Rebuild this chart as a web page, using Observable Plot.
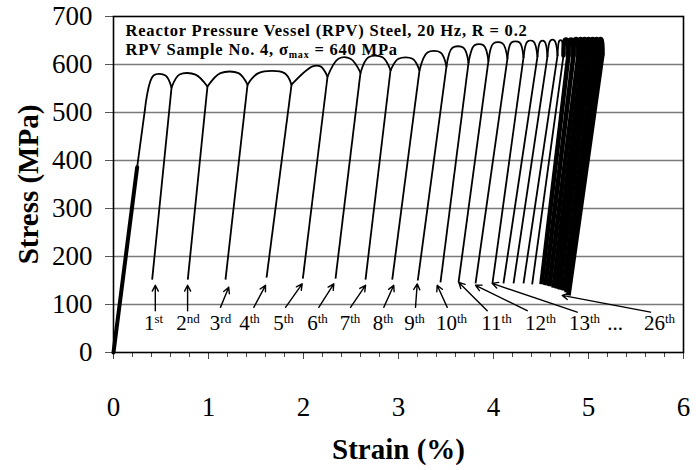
<!DOCTYPE html>
<html><head><meta charset="utf-8">
<script src="https://cdn.jsdelivr.net/npm/d3@7"></script>
<script src="https://cdn.jsdelivr.net/npm/@observablehq/plot@0.6"></script>
<style>body{margin:0;background:#fff}#chart svg{display:block}.titleline text{letter-spacing:0.8px}</style>
</head><body><div id="chart"></div>
<script>
// ---- axis ticks ----
const xTicks = [0, 1, 2, 3, 4, 5, 6];
const xMinorTicks = [0, 0.2, 0.4, 0.6, 0.8, 1, 1.2, 1.4, 1.6, 1.8, 2, 2.2, 2.4, 2.6, 2.8, 3, 3.2, 3.4, 3.6, 3.8, 4, 4.2, 4.4, 4.6, 4.8, 5, 5.2, 5.4, 5.6, 5.8, 6];
const yTicks = [0, 100, 200, 300, 400, 500, 600, 700];
const gridStress = [100, 200, 300, 400, 500, 600];

// ---- texts ----
const titleLine1 = "Reactor Pressure Vessel (RPV) Steel, 20 Hz, R = 0.2";
const titleLine2 = "RPV Sample No. 4, σmax = 640 MPa";
const xLabel = "Strain (%)";
const yLabel = "Stress (MPa)";

// ---- initial monotonic loading ----
const loadStrain = [0, 0.249, 0.33];
const loadStress = [0, 386, 505];

// ---- cycles ----
const cycles = [1,2,3,4,5,6,7,8,9,10,11,12,13,14,15,16,17,18,19,20,21,22,23,24,25,26];
const peakStrainStart = [0.421, 0.695, 1.126, 1.526, 2.095, 2.368, 2.684, 3.0, 3.305, 3.568, 3.8, 4.0, 4.189, 4.358, 4.495, 4.6, 4.695, 4.752, 4.805, 4.858, 4.907, 4.949, 4.991, 5.033, 5.075, 5.117];
const peakStrainEnd   = [0.547, 0.863, 1.316, 1.8, 2.179, 2.495, 2.832, 3.147, 3.442, 3.684, 3.895, 4.095, 4.274, 4.421, 4.537, 4.642, 4.716, 4.774, 4.826, 4.879, 4.925, 4.967, 5.009, 5.051, 5.093, 5.135];
const peakStress      = [577, 579, 582, 582, 596, 612, 615, 612, 625, 635, 640, 644, 646, 648, 648, 650, 650, 651, 651, 652, 652, 652, 652, 652, 652, 652];
const kneeStrain      = [0.611, 0.989, 1.411, 1.874, 2.253, 2.6, 2.916, 3.221, 3.505, 3.737, 3.947, 4.147, 4.316, 4.463, 4.568, 4.674, 4.737, 4.789, 4.842, 4.895, 4.937, 4.979, 5.021, 5.063, 5.105, 5.147];
const kneeStress      = [552, 554, 558, 558, 575, 583, 588, 588, 596, 604, 608, 613, 615, 617, 617, 619, 619, 620, 620, 621, 621, 621, 622, 622, 622, 622];
const minStrain       = [0.407, 0.782, 1.179, 1.611, 1.993, 2.337, 2.653, 2.934, 3.203, 3.442, 3.632, 3.811, 3.989, 4.105, 4.211, 4.316, 4.407, 4.505, 4.547, 4.589, 4.632, 4.663, 4.695, 4.737, 4.768, 4.789];
const minStress       = [152, 152, 152, 156, 154, 154, 152, 152, 150, 146, 146, 144, 144, 144, 144, 144, 142, 142, 140, 138, 135, 133, 131, 129, 125, 119];

// ---- cycle labels and arrows ----
const labelText   = ["1st","2nd","3rd","4th","5th","6th","7th","8th","9th","10th","11th","12th","13th","...","26th"];
const labelStrain = [0.421, 0.784, 1.126, 1.432, 1.789, 2.147, 2.489, 2.837, 3.168, 3.558, 4.032, 4.495, 4.958, 5.279, 5.747];
const labelStress = [60, 60, 60, 60, 60, 60, 60, 60, 60, 60, 60, 60, 60, 60, 60];
const arrowFromStrain = [0.44, 0.78, 1.126, 1.477, 1.811, 2.161, 2.495, 2.845, 3.179, 3.513, 3.934, 4.355, 4.881, 5.653];
const arrowFromStress = [87, 87, 94, 94, 94, 94, 94, 94, 94, 94, 87, 87, 84, 84];
const arrowToStrain   = [0.44, 0.78, 1.213, 1.6, 1.986, 2.319, 2.653, 2.95, 3.197, 3.407, 3.635, 3.811, 3.986, 4.723];
const arrowToStress   = [140, 140, 136, 140, 143, 143, 140, 140, 143, 140, 146, 140, 144, 119];

// ---- build tables ----
const archRows = [];
cycles.forEach((c, i) => {
  const start = i === 0
    ? [loadStrain[loadStrain.length - 1], loadStress[loadStress.length - 1]]
    : [kneeStrain[i-1], kneeStress[i-1]];
  [start,
   [peakStrainStart[i], peakStress[i]],
   [peakStrainEnd[i], peakStress[i]],
   [kneeStrain[i], kneeStress[i]]
  ].forEach(([strain, stress]) => archRows.push({cycle: c, strain, stress}));
});
const unloadRows = cycles.map((c, i) => ({cycle: c, x1: kneeStrain[i], y1: kneeStress[i], x2: minStrain[i], y2: minStress[i]}));
const loadRows = loadStrain.map((s, j) => ({strain: s, stress: loadStress[j]}));
const labels = labelText.map((t, i) => ({t, x: labelStrain[i], y: labelStress[i]}));
const arrows = arrowFromStrain.map((x1, i) => ({x1, y1: arrowFromStress[i], x2: arrowToStrain[i], y2: arrowToStress[i]}));

const serif = "'Liberation Serif', 'Times New Roman', Times, serif";
const thin = 1.8, thick = 4.6, split = 17;

const plot = Plot.plot({
  width: 696,
  height: 470,
  marginLeft: 113,
  marginRight: 13,
  marginTop: 16,
  marginBottom: 118,
  style: {fontFamily: serif, color: "black", background: "white", overflow: "visible"},
  x: {domain: [0, 6]},
  y: {domain: [0, 700]},
  marks: [
    Plot.gridY(gridStress, {stroke: "#7a7a7a", strokeOpacity: 1, strokeWidth: 1.6}),
    Plot.axisX({ticks: xMinorTicks, tickSize: 5, tickFormat: () => "", stroke: "#444", label: null}),
    Plot.axisX({ticks: xTicks, tickSize: 7, tickPadding: 37, tickFormat: d3.format("d"), fontSize: 27, stroke: "#444", label: null}),
    Plot.axisY({ticks: yTicks, tickSize: 8, tickPadding: 13, tickFormat: d3.format("d"), fontSize: 27, stroke: "#555", label: null}),
    Plot.frame({stroke: "black", strokeWidth: 1.6}),
    // initial loading
    Plot.line(loadRows.slice(0, 2), {x: "strain", y: "stress", stroke: "black", strokeWidth: 4}),
    Plot.line(loadRows, {x: "strain", y: "stress", stroke: "black", strokeWidth: thin}),
    // arches at maximum stress
    Plot.line(archRows.filter(d => d.cycle <= split), {x: "strain", y: "stress", z: "cycle", curve: "catmull-rom", stroke: "black", strokeWidth: thin}),
    Plot.line(archRows.filter(d => d.cycle > split), {x: "strain", y: "stress", z: "cycle", curve: "catmull-rom", stroke: "black", strokeWidth: thick}),
    // unloading / reloading lines
    Plot.link(unloadRows.filter(d => d.cycle <= split), {x1: "x1", y1: "y1", x2: "x2", y2: "y2", stroke: "black", strokeWidth: thin}),
    Plot.link(unloadRows.filter(d => d.cycle > split), {x1: "x1", y1: "y1", x2: "x2", y2: "y2", stroke: "black", strokeWidth: thick}),
    // labels
    Plot.arrow(arrows, {x1: "x1", y1: "y1", x2: "x2", y2: "y2", stroke: "black", strokeWidth: 1.4, headLength: 7, headAngle: 55}),
    Plot.text(labels, {x: "x", y: "y", text: "t", fontSize: 21, fill: "black", className: "ordinal"}),
    Plot.text([titleLine1], {text: d => d, frameAnchor: "top-left", dx: 12, dy: 19, lineAnchor: "bottom", textAnchor: "start", fontWeight: "bold", fontSize: 16.5, fill: "black", className: "titleline"}),
    Plot.text([titleLine2], {text: d => d, frameAnchor: "top-left", dx: 12, dy: 38, lineAnchor: "bottom", textAnchor: "start", fontWeight: "bold", fontSize: 16.5, fill: "black", className: "titleline subline"}),
    Plot.text([yLabel], {text: d => d, frameAnchor: "left", dx: -85, rotate: -90, lineAnchor: "middle", textAnchor: "middle", fontWeight: "bold", fontSize: 29, fill: "black"}),
    Plot.text([xLabel], {text: d => d, frameAnchor: "bottom", dy: 97, lineAnchor: "middle", textAnchor: "middle", fontWeight: "bold", fontSize: 29, fill: "black"})
  ]
});

const NS = "http://www.w3.org/2000/svg";
plot.querySelectorAll(".ordinal text").forEach(t => {
  const m = t.textContent.match(/^(\d+)(\D+)$/);
  if (!m) return;
  t.textContent = m[1];
  const ts = document.createElementNS(NS, "tspan");
  ts.setAttribute("font-size", "13");
  ts.setAttribute("dy", "-7");
  ts.textContent = m[2];
  t.appendChild(ts);
});
plot.querySelectorAll(".subline text").forEach(t => {
  const s = t.textContent;
  const k = s.indexOf("σmax");
  if (k < 0) return;
  t.textContent = s.slice(0, k + 1);
  const sub = document.createElementNS(NS, "tspan");
  sub.setAttribute("font-size", "10");
  sub.setAttribute("dy", "3");
  sub.textContent = "max";
  const rest = document.createElementNS(NS, "tspan");
  rest.setAttribute("dy", "-3");
  rest.textContent = s.slice(k + 4);
  t.appendChild(sub);
  t.appendChild(rest);
});
document.getElementById("chart").appendChild(plot);
</script>
</body></html>
